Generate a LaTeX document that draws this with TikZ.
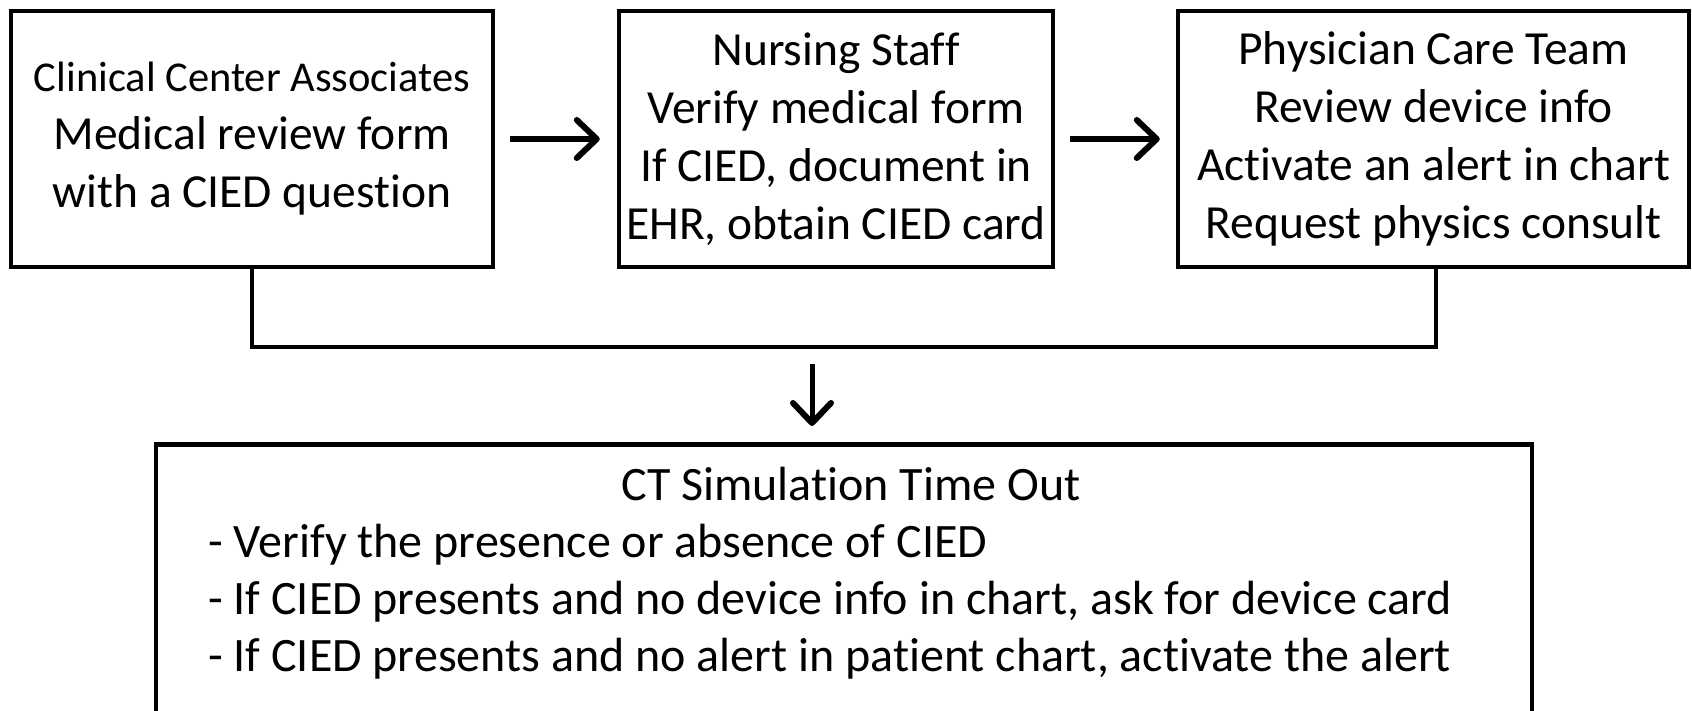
\documentclass[tikz,border=0pt]{standalone}
\usepackage{fontspec}
\setmainfont[RawFeature={-liga;-dlig}]{Carlito}
\usetikzlibrary{arrows.meta,positioning}

\tikzset{
  stepbox/.style={draw=black, line width=4.5pt, fill=white, align=center,
    inner sep=0pt, font=\fontsize{47.5}{58}\selectfont},
  flowarrow/.style={line width=5.5pt,
    -{Straight Barb[length=20pt,width=38pt,line width=6pt,round]}},
  joinline/.style={line width=4.5pt, line cap=rect},
}

\begin{document}
\begin{tikzpicture}[x=1pt,y=-1pt]
  \useasboundingbox (0,0) rectangle (1692,711);
  \clip (0,0) rectangle (1692,711);
  \fill[white] (0,0) rectangle (1692,711);

  % top row of role boxes
  \node[stepbox, minimum width=482pt, minimum height=256pt] (cca) at (252,139)
    {{\fontsize{42.5}{56}\selectfont Clinical Center Associates}\\
     Medical review form\\ with a CIED question};
  \node[stepbox, minimum width=434pt, minimum height=256pt] (nurse) at (836,139)
    {Nursing Staff\\ Verify medical form\\ If CIED, document in\\ EHR, obtain CIED card};
  \node[stepbox, minimum width=511pt, minimum height=256pt] (phys) at (1433.5,139)
    {Physician Care Team\\ Review device info\\ Activate an alert in chart\\ Request physics consult};

  % time-out box, running past the lower edge
  \node[stepbox, minimum width=1376pt, minimum height=340pt, anchor=north] (ct) at (844,442) {};
  \node[font=\fontsize{48}{58}\selectfont, inner sep=0pt] (cttitle) at (851,484) {CT Simulation Time Out};
  \node[font=\fontsize{48}{57}\selectfont, inner sep=0pt, align=left, anchor=north west]
    (ctlist) at (208,524)
    {- Verify the presence or absence of CIED\\
     - If CIED presents and no device info in chart, ask for device card\\
     - If CIED presents and no alert in patient chart, activate the alert};

  % horizontal flow arrows
  \draw[flowarrow] ([xshift=15pt]cca.east) -- ([xshift=-17pt]nurse.west);
  \draw[flowarrow] ([xshift=15pt]nurse.east) -- ([xshift=-16pt]phys.west);

  % bracket joining the first and last boxes
  \coordinate (jl) at (252,347);
  \coordinate (jr) at (1436,347);
  \draw[joinline] (cca.south) -- (jl) -- (jr) -- (jr |- phys.south);

  % arrow down to the time-out box
  \coordinate (dtop) at (812,364);
  \draw[flowarrow, line width=5pt] (dtop) -- ([yshift=16pt]dtop |- ct.north);
\end{tikzpicture}
\end{document}
